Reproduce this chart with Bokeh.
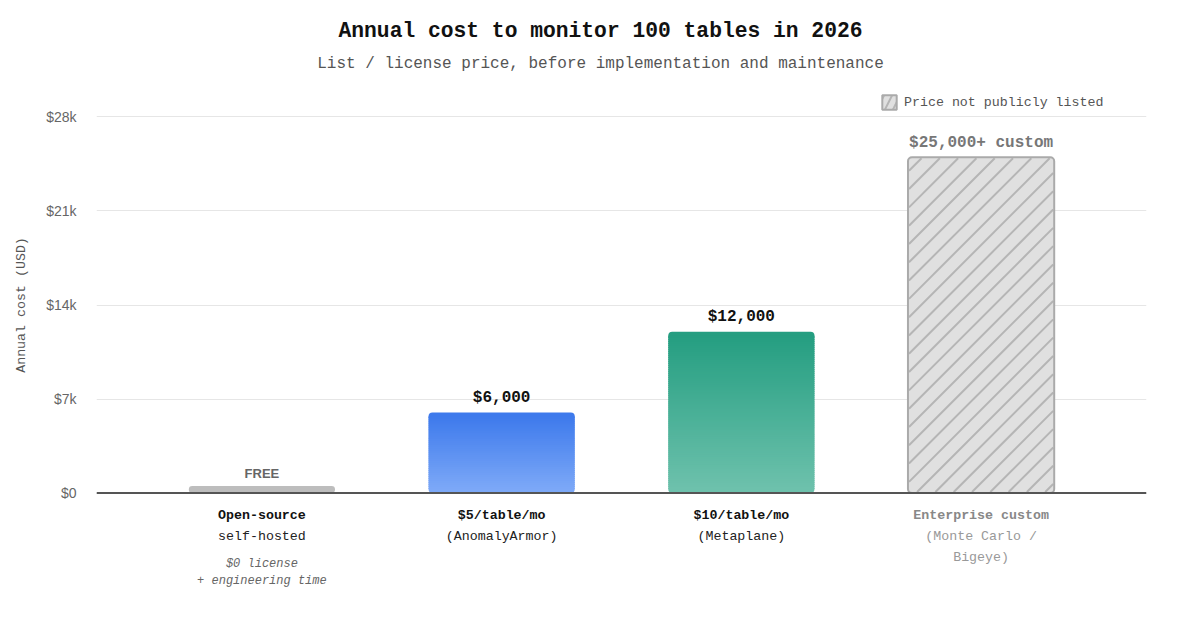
from bokeh.plotting import figure
from bokeh.models import ColumnDataSource, FixedTicker, Span, Legend, LegendItem, Range1d
from bokeh.core.properties import value
from bokeh.embed import file_html
from bokeh.resources import INLINE

# --- data ---
tiers = ["Open-source", "$5/table/mo", "$10/table/mo", "Enterprise custom"]
tier_notes = ["self-hosted", "(AnomalyArmor)", "(Metaplane)", "(Monte Carlo /"]
tier_notes2 = ["", "", "", "Bigeye)"]
annual_cost = [0, 6000, 12000, 25000]
shown_height = [520, 6000, 12000, 25000]   # free tier gets a small stub
value_labels = ["FREE", "$6,000", "$12,000", "$25,000+ custom"]
free_notes = ["$0 license", "+ engineering time"]

tick_values = [0, 7000, 14000, 21000, 28000]
tick_labels = ["$0", "$7k", "$14k", "$21k", "$28k"]

MONO = "Liberation Mono"
SANS = "Liberation Sans"

x_start, x_end = -0.69, 3.69
y_start, y_end = -8000, 36000
frame_w, frame_h = 1050, 591
bar_width = 0.61
px_per_unit = frame_h / (y_end - y_start)
px_per_x = frame_w / (x_end - x_start)


def px_up(px):
    return px / px_per_unit


def mix(c1, c2, t):
    a = [int(c1[i:i + 2], 16) for i in (1, 3, 5)]
    b = [int(c2[i:i + 2], 16) for i in (1, 3, 5)]
    return "#%02x%02x%02x" % tuple(round(a[k] + (b[k] - a[k]) * t) for k in range(3))


p = figure(
    frame_width=frame_w,
    frame_height=frame_h,
    min_border_left=96,
    min_border_right=38,
    min_border_top=9,
    min_border_bottom=24,
    x_range=Range1d(x_start, x_end),
    y_range=Range1d(y_start, y_end),
    output_backend="svg",
    toolbar_location=None,
    tools="",
)
p.outline_line_color = None
p.xaxis.visible = False
p.xgrid.visible = False

yax = p.yaxis[0]
yax.ticker = FixedTicker(ticks=tick_values)
yax.major_label_overrides = dict(zip(tick_values, tick_labels))
yax.axis_line_color = None
yax.major_tick_line_color = None
yax.minor_tick_line_color = None
yax.major_label_standoff = 14
yax.major_label_text_font = SANS
yax.major_label_text_font_size = "14px"
yax.major_label_text_color = "#666666"
yax.axis_label = "Annual cost (USD)"
yax.axis_label_text_font = MONO
yax.axis_label_text_font_size = "13.3px"
yax.axis_label_text_font_style = "normal"
yax.axis_label_text_color = "#555555"
yax.axis_label_standoff = 14
p.ygrid.grid_line_color = "#e6e6e6"

# --- bars ---
# free tier stub
p.vbar(x=[0], top=[shown_height[0]], bottom=0, width=bar_width,
       fill_color="#bdbdbd", line_color=None, border_radius=4)


def gradient_bar(i, c_bottom, c_top):
    h = shown_height[i]
    cap = px_up(5)
    # rounded caps at both ends
    p.vbar(x=[i], bottom=[0], top=[cap], width=bar_width, fill_color=c_bottom,
           line_color=None, border_radius=(0, 0, 4, 4))
    p.vbar(x=[i], bottom=[h - cap], top=[h], width=bar_width, fill_color=c_top,
           line_color=None, border_radius=(4, 4, 0, 0))
    # thin flat slices in between for the vertical gradient
    lo, hi = px_up(4), h - px_up(4)
    n = max(int((hi - lo) * px_per_unit / 2), 2)
    step = (hi - lo) / n
    src = ColumnDataSource(dict(
        x=[i] * n,
        bottom=[lo + k * step for k in range(n)],
        top=[lo + (k + 1.6) * step if k < n - 1 else hi for k in range(n)],
        color=[mix(c_bottom, c_top, (k + 0.5) / n) for k in range(n)],
    ))
    p.vbar(x="x", bottom="bottom", top="top", width=bar_width, source=src,
           fill_color="color", line_color=None)


gradient_bar(1, "#7ca8f7", "#3e7aec")
gradient_bar(2, "#6dc1ac", "#259e81")

# enterprise bar: grey fill, 45 degree hatch lines, border on top
ent_i = 3
p.vbar(x=[ent_i], top=[shown_height[ent_i]], bottom=0, width=bar_width,
       fill_color="#e0e0e0", line_color=None, border_radius=4)

bx0 = ent_i - bar_width / 2
W = bar_width * px_per_x - 2
H = shown_height[ent_i] * px_per_unit - 2
spacing = 18.3
hx0, hy0, hx1, hy1 = [], [], [], []
c = -W + 8
while c < H:
    u0, u1 = max(0, -c), min(W, H - c)
    if u1 > u0:
        hx0.append(bx0 + (u0 + 1) / px_per_x)
        hy0.append((u0 + c + 1) / px_per_unit)
        hx1.append(bx0 + (u1 + 1) / px_per_x)
        hy1.append((u1 + c + 1) / px_per_unit)
    c += spacing
p.segment(x0=hx0, y0=hy0, x1=hx1, y1=hy1, line_color="#b5b5b5", line_width=2)

p.vbar(x=[ent_i], top=[shown_height[ent_i]], bottom=0, width=bar_width,
       fill_color=None, line_color="#aaaaaa", line_width=2, border_radius=4)

# legend swatch: zero-height bar hidden under the baseline, only seen in the legend
swatch = p.vbar(x=[ent_i], top=[0], bottom=0, width=bar_width, fill_color="#e0e0e0",
                hatch_pattern="/", hatch_color="#b5b5b5", hatch_weight=2,
                hatch_scale=16, line_color="#aaaaaa", line_width=2)

p.add_layout(Span(location=0, dimension="width", line_color="#555555", line_width=2))

# --- value labels ---
val_colors = ["#666666", "#111111", "#111111", "#777777"]
for i in range(4):
    p.text(x=[i], y=[shown_height[i] + px_up(5.5)], text=[value_labels[i]],
           text_font=value(SANS if i == 0 else MONO),
           text_font_size="13px" if i == 0 else "16px",
           text_font_style="bold", text_color=val_colors[i],
           text_align="center", text_baseline="bottom")

# --- category labels below the baseline ---
head_colors = ["#111111", "#111111", "#111111", "#888888"]
note_colors = ["#222222", "#222222", "#222222", "#999999"]
for i in range(4):
    p.text(x=[i], y=[-px_up(22.5)], text=[tiers[i]], text_font=value(MONO),
           text_font_size="13.3px", text_font_style="bold", text_color=head_colors[i],
           text_align="center", text_baseline="middle")
    p.text(x=[i], y=[-px_up(43.5)], text=[tier_notes[i]], text_font=value(MONO),
           text_font_size="13.3px", text_color=note_colors[i],
           text_align="center", text_baseline="middle")
    if tier_notes2[i]:
        p.text(x=[i], y=[-px_up(64.5)], text=[tier_notes2[i]], text_font=value(MONO),
               text_font_size="13.3px", text_color=note_colors[i],
               text_align="center", text_baseline="middle")

for j, note in enumerate(free_notes):
    p.text(x=[0], y=[-px_up(70.5 + 17 * j)], text=[note], text_font=value(MONO),
           text_font_size="12px", text_font_style="italic", text_color="#666666",
           text_align="center", text_baseline="middle")

# --- title & subtitle, centred on the page ---
title_x = x_start + (600 - 96) / frame_w * (x_end - x_start)
p.text(x=[title_x], y=[px_up(462.5)], text=["Annual cost to monitor 100 tables in 2026"],
       text_font=value(MONO), text_font_size="21.3px", text_font_style="bold",
       text_color="#111111", text_align="center", text_baseline="middle")
p.text(x=[title_x], y=[px_up(429.5)],
       text=["List / license price, before implementation and maintenance"],
       text_font=value(MONO), text_font_size="16px", text_color="#555555",
       text_align="center", text_baseline="middle")

# --- legend ---
legend = Legend(
    items=[LegendItem(label="Price not publicly listed", renderers=[swatch])],
    location=(784, 489),
    border_line_color=None,
    background_fill_alpha=0,
    padding=0,
    margin=0,
    glyph_width=18,
    glyph_height=18,
    label_height=18,
    label_standoff=6,
    label_text_font=MONO,
    label_text_font_size="13.3px",
    label_text_color="#555555",
)
p.add_layout(legend)

open("out.html", "w").write(file_html(p, INLINE, title="Annual cost to monitor 100 tables"))
